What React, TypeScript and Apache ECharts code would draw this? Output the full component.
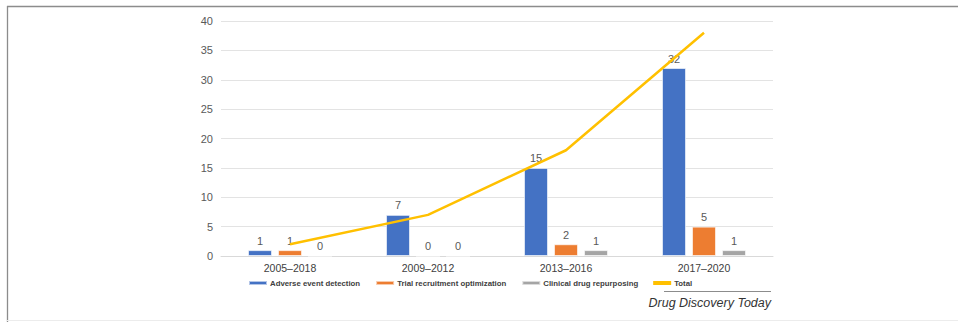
import React, { useEffect, useRef } from "react";
import * as echarts from "echarts";

const categories = ["2005–2018", "2009–2012", "2013–2016", "2017–2020"];
const adverseEvent = [1, 7, 15, 32];
const trialRecruitment = [1, 0, 2, 5];
const drugRepurposing = [0, 0, 1, 1];
const total = [2, 7, 18, 38];
const yTicks = { min: 0, max: 40, interval: 5 };
const seriesNames = [
  "Adverse event detection",
  "Trial recruitment optimization",
  "Clinical drug repurposing",
  "Total",
];
const sourceText = "Drug Discovery Today";

const FONT = "'Liberation Sans', Arial, Helvetica, sans-serif";

export default function App() {
  const ref = useRef<HTMLDivElement>(null);
  useEffect(() => {
    if (!ref.current) return;
    const chart = echarts.init(ref.current, undefined, { renderer: "svg" });
    const barLabel = {
      show: true,
      position: "top",
      distance: 4,
      color: "#595959",
      fontSize: 11,
      fontFamily: FONT,
    };
    const barBase = {
      type: "bar",
      barWidth: 24,
      barGap: "25%",
      label: barLabel,
    };
    chart.setOption({
      animation: false,
      textStyle: { fontFamily: FONT },
      grid: { left: 221, right: 185, top: 21, bottom: 66, containLabel: false },
      legend: {
        left: 248,
        top: 279,
        padding: 0,
        icon: "rect",
        itemWidth: 18,
        itemHeight: 4,
        itemGap: 15,
        textStyle: {
          color: "#404040",
          fontSize: 7.8,
          fontWeight: "bold",
          fontFamily: "'Liberation Sans Narrow', 'Liberation Sans', Arial, sans-serif",
          padding: [0, 0, 0, -2],
        },
        data: seriesNames,
      },
      xAxis: {
        type: "category",
        data: categories,
        axisLine: { lineStyle: { color: "#d9d9d9", width: 1 } },
        axisTick: { show: false },
        axisLabel: { color: "#404040", fontSize: 10.5, margin: 6, fontFamily: FONT },
      },
      yAxis: {
        type: "value",
        min: yTicks.min,
        max: yTicks.max,
        interval: yTicks.interval,
        axisLine: { show: false },
        axisTick: { show: false },
        axisLabel: { color: "#595959", fontSize: 11, margin: 8, fontFamily: FONT },
        splitLine: { lineStyle: { color: "#e3e3e3", width: 1 } },
      },
      series: [
        {
          ...barBase,
          name: seriesNames[0],
          data: adverseEvent,
          itemStyle: { color: "#4472C4", borderColor: "rgba(255,255,255,0.6)", borderWidth: 1 },
        },
        {
          ...barBase,
          name: seriesNames[1],
          data: trialRecruitment,
          itemStyle: { color: "#ED7D31", borderColor: "rgba(255,255,255,0.6)", borderWidth: 1 },
        },
        {
          ...barBase,
          name: seriesNames[2],
          data: drugRepurposing,
          itemStyle: { color: "#A5A5A5", borderColor: "rgba(255,255,255,0.6)", borderWidth: 1 },
        },
        {
          type: "line",
          name: seriesNames[3],
          data: total,
          showSymbol: false,
          symbol: "none",
          z: 5,
          lineStyle: { color: "#FFC000", width: 2.5 },
          itemStyle: { color: "#FFC000" },
        },
      ],
      graphic: [
        {
          type: "line",
          shape: { x1: 7, y1: 6.5, x2: 958, y2: 6.5 },
          style: { stroke: "#8c8c8c", lineWidth: 1.3 },
        },
        {
          type: "line",
          shape: { x1: 7.5, y1: 6, x2: 7.5, y2: 322 },
          style: { stroke: "#8c8c8c", lineWidth: 1.3 },
        },
        {
          type: "line",
          shape: { x1: 7, y1: 320.5, x2: 958, y2: 320.5 },
          style: { stroke: "#ececec", lineWidth: 1 },
        },
        {
          type: "line",
          shape: { x1: 664, y1: 291.5, x2: 771, y2: 291.5 },
          style: { stroke: "#8c8c8c", lineWidth: 1 },
        },
        {
          type: "text",
          x: 771,
          y: 303,
          style: {
            text: sourceText,
            fill: "#333333",
            fontSize: 12.5,
            fontStyle: "italic",
            fontFamily: FONT,
            align: "right",
            verticalAlign: "middle",
          },
        },
      ],
    });
    return () => chart.dispose();
  }, []);
  return (
    <div
      ref={ref}
      style={{ position: "fixed", left: 0, top: 0, width: 958, height: 322, background: "#fff" }}
    />
  );
}
